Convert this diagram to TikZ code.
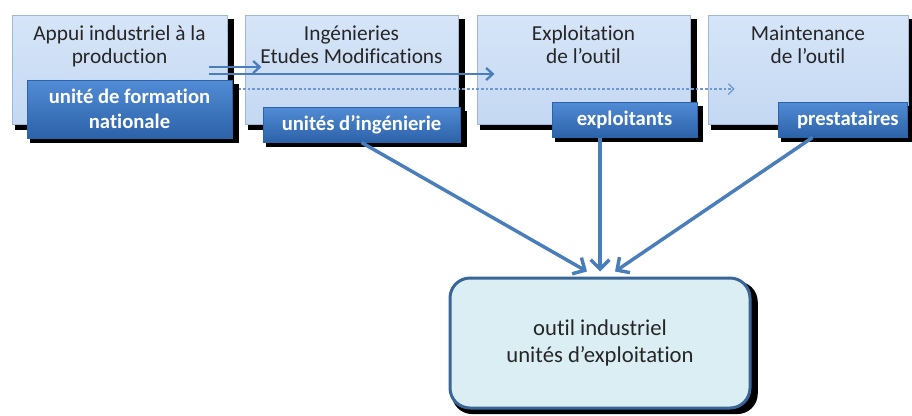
\documentclass[tikz,border=0pt]{standalone}
\usepackage{fontspec}
\setmainfont[Ligatures=NoCommon]{Carlito}
\usetikzlibrary{positioning,arrows.meta,shadows}

\definecolor{paleblue}{RGB}{214,229,248}
\definecolor{paleblue2}{RGB}{196,216,242}
\definecolor{boxedge}{RGB}{160,184,216}
\definecolor{darklab}{RGB}{82,140,214}
\definecolor{darklab2}{RGB}{44,98,168}
\definecolor{arrowblue}{RGB}{74,126,187}
\definecolor{dashblue}{RGB}{110,152,206}
\definecolor{outilfill}{RGB}{219,238,244}
\definecolor{outiledge}{RGB}{58,101,151}
\definecolor{textgray}{RGB}{38,38,38}

\tikzset{every picture/.style={line width=0.75pt}}
\tikzset{
  blackshadow/.style={general shadow={fill=black, shadow xshift=3.5pt, shadow yshift=-3.5pt, shadow scale=1.02}},
  topbox/.style={blackshadow, draw=boxedge, top color=paleblue, bottom color=paleblue2, minimum height=81.75pt, inner sep=0pt},
  toptext/.style={align=center, text=textgray, font=\fontsize{16pt}{17.25pt}\selectfont, inner sep=0pt},
  unitlabel/.style={blackshadow, draw=darklab2, top color=darklab, bottom color=darklab2, text=white, align=center, font=\bfseries\fontsize{15.5pt}{18.75pt}\selectfont, minimum height=26.25pt, inner sep=0pt},
  bigarrow/.style={draw=arrowblue, line width=2.6pt, -{Straight Barb[length=7pt,width=14pt]}},
  flowarrow/.style={draw=arrowblue, line width=1.7pt, -{Straight Barb[length=5pt,width=9pt]}},
  dasharrow/.style={draw=dashblue, line width=0.9pt, dash pattern={on 2pt off 1.5pt}, -{Straight Barb[length=4pt,width=8pt]}}
}

\begin{document}
\begin{tikzpicture}[x=0.75pt,y=0.75pt,yscale=-1,xscale=1]
\useasboundingbox (0,0) rectangle (912,415);

% top boxes
\node[topbox, minimum width=161.25pt] (appui) at (119.5,69.5) {};
\node[topbox, minimum width=159.75pt] (ingen) at (351.5,69.5) {};
\node[topbox, minimum width=159.75pt] (exploit) at (583.5,69.5) {};
\node[topbox, minimum width=150pt] (maint) at (808,69.5) {};

% Text Node
\node[toptext, below=8.25pt of appui.north] {Appui industriel à la\\production};
% Text Node
\node[toptext, below=8.25pt of ingen.north] {Ingénieries\\Etudes Modifications};
% Text Node
\node[toptext, below=8.25pt of exploit.north] {Exploitation\\de l’outil};
% Text Node
\node[toptext, below=8.25pt of maint.north] {Maintenance\\de l’outil};

% flows between boxes
\draw[flowarrow] ([shift={(-19,-2.5)}]appui.east) -- ([shift={(17,-2.5)}]ingen.west);
\draw[flowarrow] ([shift={(-19,4.5)}]appui.east) -- ([shift={(18,4.5)}]exploit.west);
\draw[dasharrow] ([shift={(6,19.5)}]appui.east) -- ([shift={(27,19.5)}]maint.west);

% unit labels
\node[unitlabel, minimum width=153.75pt, minimum height=43.5pt] (formation) at (129.5,109) {unité de formation\\nationale};
\node[unitlabel, minimum width=147.75pt] (inge) at (361.5,124.5) {unités d’ingénierie};
\node[unitlabel, minimum width=108.75pt] (exploitants) at (624.5,119.5) {exploitants};
\node[unitlabel, minimum width=96.75pt] (prest) at (842.5,119.5) {\hspace{8pt}prestataires};

% industrial tool
\node[blackshadow, draw=outiledge, fill=outilfill, line width=2.25pt, rounded corners=15pt, minimum width=225pt, minimum height=97.5pt, align=center, text=textgray, font=\fontsize{17pt}{20.25pt}\selectfont] (outil) at (600,343) {outil industriel\\unités d’exploitation};

\draw[bigarrow] (inge.south) -- ([shift={(-13,-5)}]outil.north);
\draw[bigarrow] (exploitants.south -| outil.north) -- ([shift={(0,-5)}]outil.north);
\draw[bigarrow] ([shift={(-30,0)}]prest.south) -- ([shift={(15,-5)}]outil.north);

\end{tikzpicture}
\end{document}
